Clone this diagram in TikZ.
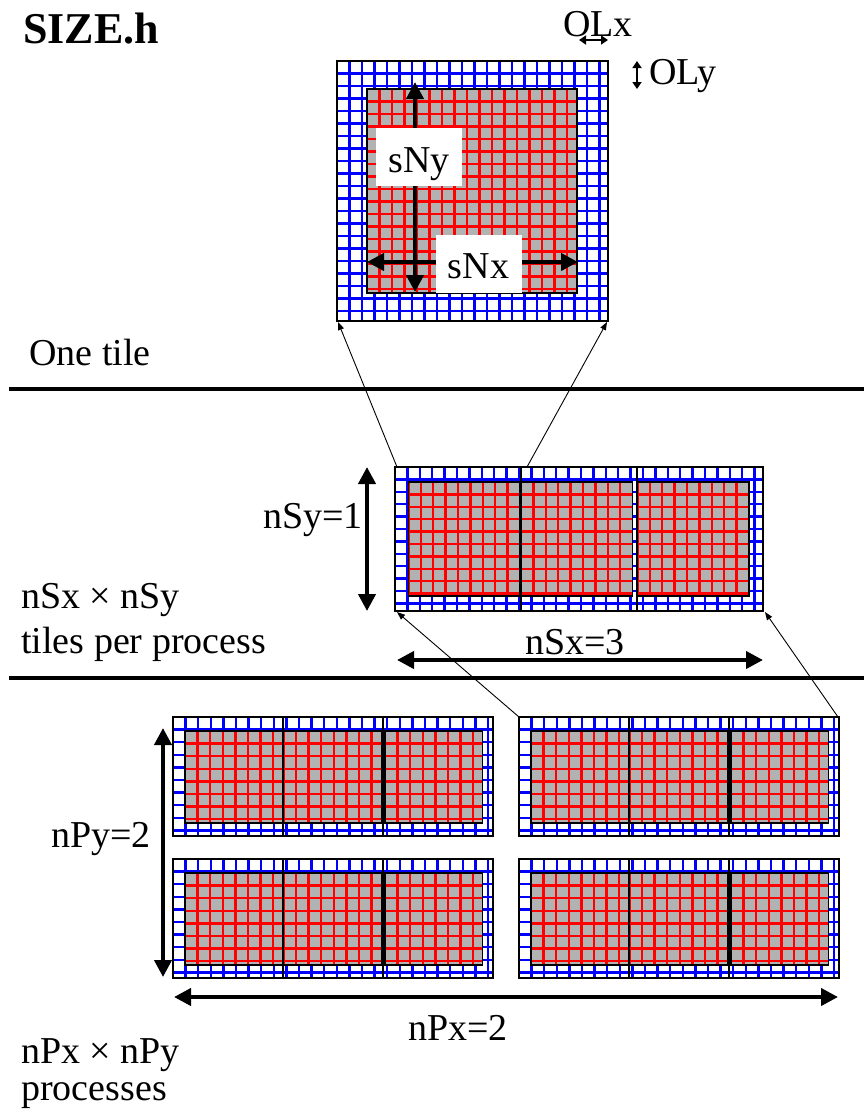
\documentclass[tikz,border=0pt]{standalone}
\usepackage{fontspec}
\setmainfont{Liberation Serif}
\usetikzlibrary{arrows.meta}
\definecolor{cellgrey}{RGB}{178,178,178}
\definecolor{gridblue}{RGB}{0,0,255}
\definecolor{gridred}{RGB}{255,0,0}
\tikzset{
  bline/.style={draw=gridblue, line width=2.4pt},
  rline/.style={draw=gridred, line width=2.4pt},
  boxline/.style={draw=black, line width=1.6pt},
  divline/.style={draw=black, line width=2pt},
  rulebar/.style={line width=3.5pt},
  bigarrow/.style={line width=4pt, {Triangle[length=17pt,width=17pt]}-{Triangle[length=17pt,width=17pt]}},
  thinarrow/.style={line width=0.9pt, -{Triangle[length=8pt,width=6pt]}},
  smallarrow/.style={line width=1.8pt, {Triangle[length=7pt,width=9pt]}-{Triangle[length=7pt,width=9pt]}},
  lbl/.style={font=\fontsize{38}{42}\selectfont, inner sep=0pt, anchor=base west},
  boxlbl/.style={font=\fontsize{38}{42}\selectfont, fill=white, inner sep=0pt, minimum width=86pt},
}
\newcommand{\gridrect}[6]{%
  \begin{scope}
    \clip (#1,#2) rectangle (#3,#4);
    \pgfmathtruncatemacro{\gnx}{(#3-#1)/#5}%
    \pgfmathtruncatemacro{\gny}{(#4-#2)/#5}%
    \foreach \k in {0,...,\gnx} {\path[#6] ({#1+\k*#5},#2) -- ({#1+\k*#5},#4);}
    \foreach \k in {0,...,\gny} {\path[#6] (#1,{#2+\k*#5}) -- (#3,{#2+\k*#5});}
  \end{scope}}
\newcommand{\greycell}[5]{%
  \fill[cellgrey] (#1,#2) rectangle (#3,#4);
  \gridrect{#1}{#2}{#3}{#4}{#5}{rline}
  \path[boxline] (#1,#2) rectangle (#3,#4);}
\newcommand{\procblock}[2]{%
  \begin{scope}[shift={(#1,#2)}]
    \gridrect{0}{0}{320}{119}{12.6}{bline}
    \greycell{12}{14}{109.7}{106}{12.6}
    \greycell{110.3}{14}{208.7}{106}{12.6}
    \greycell{212}{14}{309.3}{106}{12.6}
    \path[boxline] (0,0) rectangle (320,119);
    \path[divline] (110.3,0) -- (110.3,119);
    \path[divline] (210.3,0) -- (210.3,119);
  \end{scope}}
\begin{document}
\begin{tikzpicture}[x=1pt,y=-1pt]
\useasboundingbox (0,0) rectangle (864,1117);
\fill[white] (0,0) rectangle (864,1117);

% ---------- one tile ----------
\begin{scope}[shift={(337,61)}]
  \gridrect{0}{0}{271}{260}{12.5}{bline}
  \greycell{30}{28}{240}{232}{12.5}
  \path[boxline] (0,0) rectangle (271,260);
\end{scope}
\coordinate (tBL) at (338,322);
\coordinate (tBR) at (607,322);

% ---------- tiles per process ----------
\begin{scope}[shift={(395,467)}]
  \gridrect{0}{0}{368}{144}{12.4}{bline}
  \greycell{13.3}{15}{125}{129}{12.4}
  \greycell{126}{15}{237.3}{129}{12.4}
  \greycell{242.3}{15}{354}{129}{12.4}
  \path[boxline] (0,0) rectangle (368,144);
  \path[divline] (126,0) -- (126,144);
  \path[divline] (242,0) -- (242,144);
\end{scope}
\coordinate (mT1) at (397,467);
\coordinate (mT2) at (527,467);
\coordinate (mBL) at (397,612);
\coordinate (mBR) at (765,612);

% ---------- processes ----------
\procblock{173}{717}
\procblock{173}{859}
\procblock{519}{717}
\procblock{519}{859}
\coordinate (pTL) at (519,717);
\coordinate (pTR) at (838,717);

% ---------- separators ----------
\coordinate (r1a) at (9,389);  \coordinate (r1b) at (864,389);
\coordinate (r2a) at (9,678);  \coordinate (r2b) at (864,678);
\draw[rulebar] (r1a) -- (r1b);
\draw[rulebar] (r2a) -- (r2b);

% ---------- connectors ----------
\draw[thinarrow] (mT1) -- (tBL);
\draw[thinarrow] (mT2) -- (tBR);
\draw[thinarrow] (pTL) -- (mBL);
\draw[thinarrow] (pTR) -- (mBR);

% ---------- dimension arrows ----------
\coordinate (sNyA) at (415,82);  \coordinate (sNyB) at (415,292);
\coordinate (sNxA) at (367,262); \coordinate (sNxB) at (578,262);
\draw[bigarrow] (sNyA) -- (sNyB);
\draw[bigarrow] (sNxA) -- (sNxB);
\node[boxlbl, text height=44pt, text depth=14pt] (sny) at (419,157) {sNy};
\node[boxlbl, text height=43pt, text depth=15pt] (snx) at (478.5,264) {sNx};

\coordinate (olxA) at (579,40); \coordinate (olxB) at (608,40);
\draw[smallarrow] (olxA) -- (olxB);
\coordinate (olyA) at (637,61); \coordinate (olyB) at (637,89);
\draw[smallarrow] (olyA) -- (olyB);

\coordinate (nSyA) at (367,467); \coordinate (nSyB) at (367,611);
\draw[bigarrow] (nSyA) -- (nSyB);
\coordinate (nSxA) at (397,660); \coordinate (nSxB) at (763,660);
\draw[bigarrow] (nSxA) -- (nSxB);
\coordinate (nPyA) at (163,728); \coordinate (nPyB) at (163,977);
\draw[bigarrow] (nPyA) -- (nPyB);
\coordinate (nPxA) at (174,997); \coordinate (nPxB) at (838,997);
\draw[bigarrow] (nPxA) -- (nPxB);

% ---------- labels ----------
\node[lbl, font=\fontsize{44}{48}\selectfont\bfseries] (title) at (23,43) {SIZE.h};
\node[lbl] (olx) at (563,36) {OLx};
\node[lbl] (oly) at (649,84) {OLy};
\node[lbl] (onetile) at (29,365) {One tile};
\node[lbl] (nsy) at (263,528) {nSy=1};
\node[lbl] (tpp1) at (21,608) {nSx × nSy};
\node[lbl] (tpp2) at (21,653) {tiles per process};
\node[lbl] (nsx) at (525,654) {nSx=3};
\node[lbl] (npy) at (51,847) {nPy=2};
\node[lbl] (npx) at (408,1040) {nPx=2};
\node[lbl] (pp1) at (21,1063) {nPx × nPy};
\node[lbl] (pp2) at (21,1100) {processes};
\end{tikzpicture}
\end{document}
